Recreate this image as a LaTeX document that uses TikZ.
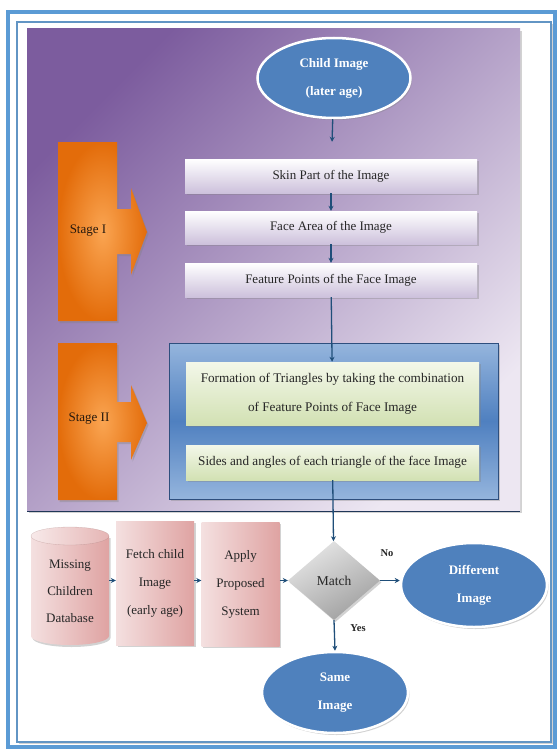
\documentclass[tikz,border=0pt]{standalone}
\usepackage{fontspec}
\setmainfont{Liberation Serif}
\usetikzlibrary{arrows.meta,shapes.geometric,shadows,calc}
\definecolor{pur1}{HTML}{7C5C9E}
\definecolor{pur2}{HTML}{EDE7F2}
\definecolor{lavb}{HTML}{CDC1DC}
\definecolor{elblue}{HTML}{4F81BD}
\definecolor{arrowc}{HTML}{1F4E79}
\definecolor{orin}{HTML}{FAA552}
\definecolor{orout}{HTML}{E36C0A}
\definecolor{pink1}{HTML}{F4E0E0}
\definecolor{pink2}{HTML}{DFA3A2}
\definecolor{grn1}{HTML}{F3F7E9}
\definecolor{grn2}{HTML}{D2E1B3}
\definecolor{bl1}{HTML}{95B5DD}
\definecolor{bl2}{HTML}{4F80C0}
\definecolor{bldark}{HTML}{2E4F7E}
\definecolor{frameblue}{HTML}{5B9BD5}
\definecolor{txt}{HTML}{262626}
\begin{document}
\begin{tikzpicture}[x=1pt,y=-1pt,
  conn/.style={draw=arrowc, line width=1.3pt, -{Stealth[length=5pt,width=5pt]}},
  shad/.style={drop shadow={opacity=0.35,shadow xshift=1.5pt,shadow yshift=-2pt}},
  whitebox/.style={shad, top color=white, bottom color=lavb, minimum width=292pt, minimum height=33pt, inner sep=0pt, font=\fontsize{13}{15}\selectfont, text=txt},
  greenbox/.style={shad, top color=grn1, bottom color=grn2, minimum width=293pt, inner sep=0pt, align=center, font=\fontsize{13.2}{29}\selectfont, text=txt},
  pinkbox/.style={shad, left color=pink1, right color=pink2, minimum width=78pt, minimum height=124pt, inner sep=0pt, align=center, font=\fontsize{13}{28}\selectfont, text=txt},
  blueell/.style={ellipse, draw=white, line width=2.5pt, fill=elblue, shad, inner sep=0pt, align=center, text=white, font=\bfseries\fontsize{13}{28}\selectfont},
  stagetxt/.style={font=\fontsize{13}{15}\selectfont, text=black!80!brown},
  lbl/.style={font=\bfseries\fontsize{10.5}{12}\selectfont, text=txt}
]
\useasboundingbox (0,0) rectangle (559,752);
\fill[white] (0,0) rectangle (559,752);
% frame
\draw[frameblue, line width=3.5pt] (8,12) rectangle (555,747);
\draw[white, line width=1pt] (11.5,15.5) rectangle (551.5,743.5);
\draw[frameblue!80!gray, line width=1.3pt, shad] (17,22) rectangle (551,742);
\fill[white] (17.7,22.7) rectangle (550.3,741.3);
% purple panel
\shade[shad, top color=pur1, bottom color=pur2, shading angle=45] (27,29) rectangle (520,511);
\draw[bldark!70!black, line width=1pt] (27,511) -- (520,511);
% stage arrows
\shade[shad, shading=radial, inner color=orin, outer color=orout]
  (58,142) -- (117,142) -- (117,209) -- (131,209) -- (131,188) -- (147,232) -- (131,275) -- (131,254) -- (117,254) -- (117,321) -- (58,321) -- cycle;
\shade[shad, shading=radial, inner color=orin, outer color=orout]
  (58,343) -- (117,343) -- (117,402) -- (131,402) -- (131,385) -- (147,423) -- (131,460) -- (131,442) -- (117,442) -- (117,500) -- (58,500) -- cycle;
\node[stagetxt] (st1) at (88,231) {Stage I};
\node[stagetxt] (st2) at (89,419) {Stage II};
% child ellipse
\node[blueell, minimum width=153pt, minimum height=80pt] (child) at (334,78) {Child Image\\(later age)};
% white boxes
\node[whitebox, minimum height=34pt] (skin) at (331,176) {Skin Part of the Image};
\node[whitebox] (face) at (331,227.5) {Face Area of the Image};
\node[whitebox, minimum height=34pt] (feat) at (331,280) {Feature Points of the Face Image};
% blue panel
\node[shad, draw=bldark, line width=0.8pt, top color=bl1, bottom color=bl1, middle color=bl2, minimum width=329pt, minimum height=156pt, inner sep=0pt] (panel) at (333.5,421) {};
\node[greenbox, minimum height=63pt] (green1) at (332.5,393.5) {Formation of Triangles by taking the combination\\of Feature Points of Face Image};
\node[greenbox, minimum height=35pt] (green2) at (332.5,462.5) {Sides and angles of each triangle of the face Image};
% cylinder
\shade[shad, left color=pink1, right color=pink2]
  (31,536) -- (31,636) arc[start angle=180, end angle=0, x radius=39, y radius=9] -- (109,536) -- cycle;
\shade[left color=pink1!70!white, right color=pink2!80!white] (70,536) ellipse[x radius=39, y radius=9];
\draw[pink2!70!black, line width=0.3pt, opacity=0.4] (70,536) ellipse[x radius=39, y radius=9];
\node[align=center, font=\fontsize{13}{27}\selectfont, text=txt, minimum width=78pt, minimum height=118pt, inner sep=0pt] (db) at (70,591) {Missing\\Children\\Database};
% pink boxes
\node[pinkbox] (fetch) at (155,583) {Fetch child\\Image\\(early age)};
\node[pinkbox] (apply) at (240.5,584) {Apply\\Proposed\\System};
% diamond
\node[diamond, shad, aspect=1.16, minimum width=92pt, minimum height=79pt, inner sep=0pt, top color=gray!20, bottom color=gray!75, shading angle=30, font=\fontsize{13.5}{15}\selectfont, text=txt] (match) at (334,580.5) {Match};
% result ellipses
\node[blueell, minimum width=146pt, minimum height=84pt] (diff) at (474,585) {Different\\Image};
\node[blueell, minimum width=146pt, minimum height=81pt] (same) at (335,692.5) {Same\\Image};
% connectors
\draw[conn, shorten >=17pt] (child) -- (skin);
\draw[conn] (skin) -- (face);
\draw[conn] (face) -- (feat);
\draw[conn] (feat) -- (green1);
\draw[conn] (green2) -- (match);
\draw[conn] (db.east |- match) -- (fetch.west |- match);
\draw[conn] (fetch.east |- match) -- (apply.west |- match);
\draw[conn] (apply.east |- match) -- (match.west);
\draw[conn] (match.east) -- (match.east -| diff.west);
\draw[conn] (match.south) -- (same.north);
\node[lbl] (no) at (387,553) {No};
\node[lbl] (yes) at (358,628) {Yes};
\end{tikzpicture}
\end{document}
